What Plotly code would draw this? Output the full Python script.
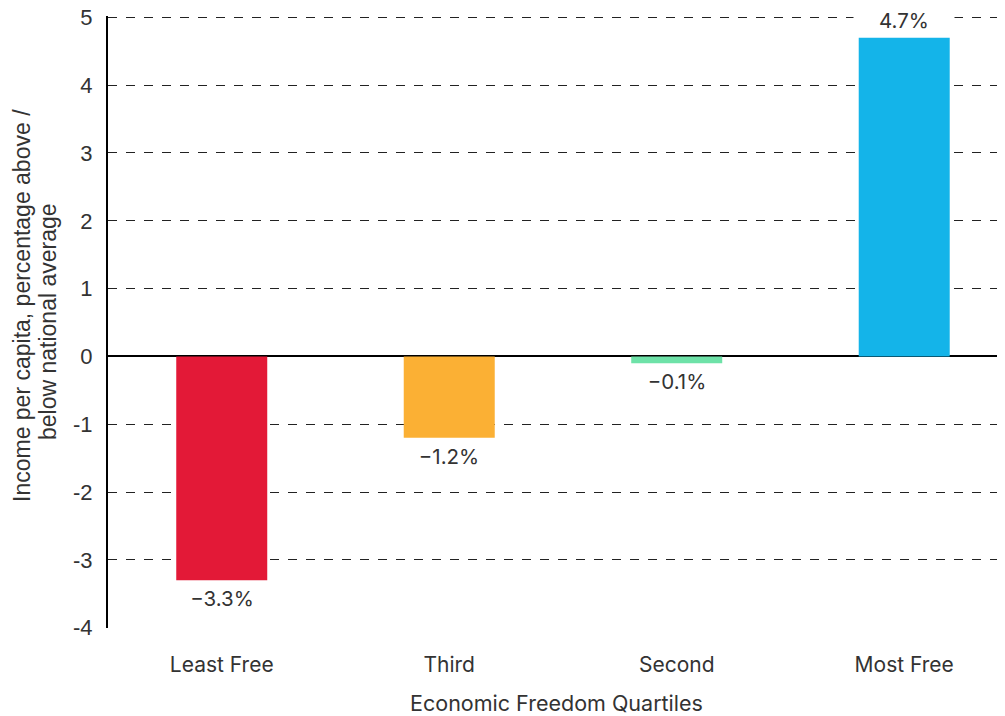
import plotly.graph_objects as go

quartis = ["Least Free", "Third", "Second", "Most Free"]
valores = [-3.3, -1.2, -0.1, 4.7]
rotulos = ["\u22123.3%", "\u22121.2%", "\u22120.1%", "4.7%"]
cores = ["#E31937", "#FBB034", "#6EE2A8", "#14B4E9"]
ticks_y = [5, 4, 3, 2, 1, 0, -1, -2, -3, -4]
titulo_y = ["Income per capita, percentage above /", "below national average"]

FONTE_Y = "Liberation Sans, Arial, sans-serif"
FONTE_X = "Inter, sans-serif"
COR_TXT = "#333333"

fig = go.Figure(
    go.Bar(
        x=quartis,
        y=valores,
        width=0.4,
        marker=dict(color=cores, line=dict(width=0)),
        hoverinfo="x+y",
    )
)

# rótulos acima/abaixo das barras, com fundo branco cortando a grade
for q, v, r in zip(quartis, valores, rotulos):
    fig.add_annotation(
        x=q,
        y=v,
        text=r,
        showarrow=False,
        yanchor="bottom" if v > 0 else "top",
        yshift=4 if v > 0 else -5,
        width=100,
        bgcolor="white",
        borderpad=0,
        font=dict(family=FONTE_X, size=20.5, color=COR_TXT),
    )

# título do eixo y em duas linhas, com entrelinha mais justa
for linha, dx, dy in zip(titulo_y, [-86, -60], [16, 0]):
    fig.add_annotation(
        xref="paper",
        yref="paper",
        x=0,
        y=0.5,
        xshift=dx,
        yshift=dy,
        text=linha,
        textangle=-90,
        showarrow=False,
        xanchor="center",
        yanchor="middle",
        font=dict(family=FONTE_Y, size=23, color=COR_TXT),
    )

# a página tem 8px de margem no body; o tamanho compensa isso
fig.update_layout(
    width=997,
    height=708,
    paper_bgcolor="white",
    plot_bgcolor="white",
    showlegend=False,
    margin=dict(l=100, r=0, t=8, b=88),
    font=dict(family=FONTE_Y, size=19, color=COR_TXT),
    xaxis=dict(
        range=[-0.5, 3.443],
        automargin=False,
        showgrid=False,
        showline=False,
        ticks="",
        ticklabelstandoff=22,
        tickfont=dict(family=FONTE_X, size=21, color=COR_TXT),
        title=dict(
            text="Economic Freedom Quartiles",
            font=dict(family=FONTE_X, size=21.5, color=COR_TXT),
            standoff=20,
        ),
    ),
    yaxis=dict(
        range=[-4.004, 5.02],
        automargin=False,
        tickvals=ticks_y,
        ticktext=[str(v) for v in ticks_y],
        ticklabeloverflow="allow",
        showgrid=True,
        gridcolor="#222222",
        griddash="dash",
        gridwidth=1,
        showline=True,
        linecolor="black",
        linewidth=2,
        zeroline=True,
        zerolinecolor="black",
        zerolinewidth=2,
        ticks="",
        ticklabelstandoff=9,
        tickfont=dict(family=FONTE_Y, size=22, color=COR_TXT),
    ),
)

fig.write_html("out.html")
